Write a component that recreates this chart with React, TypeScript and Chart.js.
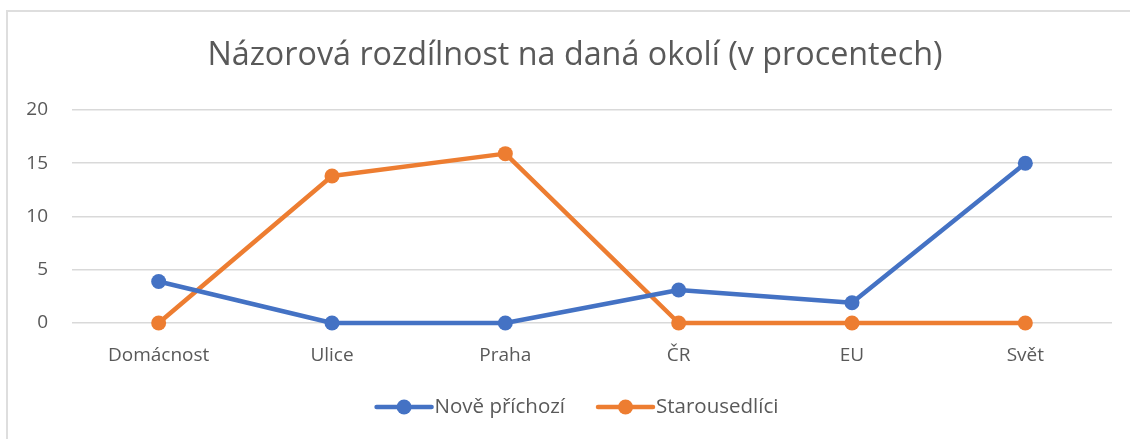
import React, { useEffect, useRef } from "react";
import { Chart, registerables } from "chart.js";

Chart.register(...registerables);

const TITLE = "Názorová rozdílnost na daná okolí (v procentech)";
const categories = ["Domácnost", "Ulice", "Praha", "ČR", "EU", "Svět"];
const noveSeries = [3.9, 0, 0, 3.1, 1.9, 15];
const staroSeries = [0, 13.8, 15.9, 0, 0, 0];
const seriesNames = ["Nově příchozí", "Starousedlíci"];
const seriesColors = ["#4472C4", "#ED7D31"];
const yTicks = [0, 5, 10, 15, 20];

const FONT = "'Open Sans', 'Noto Sans', sans-serif";
const TEXT_COLOR = "#595959";

const legendPlugin = {
  id: "lineLegend",
  afterDraw(chart: any) {
    const ctx = chart.ctx;
    const y = 407;
    const lineW = 55;
    const gapText = 3;
    const gapItems = 33;
    ctx.save();
    ctx.font = `20.5px ${FONT}`;
    const items = chart.data.datasets.map((ds: any) => ({
      label: ds.label,
      color: ds.borderColor,
      w: ctx.measureText(ds.label).width,
    }));
    const total =
      items.reduce((s: number, it: any) => s + lineW + gapText + it.w, 0) +
      gapItems * (items.length - 1);
    let x = 577.5 - total / 2;
    items.forEach((it: any) => {
      ctx.strokeStyle = it.color;
      ctx.lineWidth = 4.5;
      ctx.lineCap = "round";
      ctx.beginPath();
      ctx.moveTo(x, y);
      ctx.lineTo(x + lineW, y);
      ctx.stroke();
      ctx.fillStyle = it.color;
      ctx.beginPath();
      ctx.arc(x + lineW / 2, y, 7.5, 0, Math.PI * 2);
      ctx.fill();
      ctx.fillStyle = TEXT_COLOR;
      ctx.textBaseline = "middle";
      ctx.textAlign = "left";
      ctx.fillText(it.label, x + lineW + gapText, y);
      x += lineW + gapText + it.w + gapItems;
    });
    ctx.restore();
  },
};

export default function App() {
  const ref = useRef<HTMLCanvasElement>(null);
  useEffect(() => {
    if (!ref.current) return;
    const chart = new Chart(ref.current, {
      type: "line",
      data: {
        labels: categories,
        datasets: [noveSeries, staroSeries].map((d, i) => ({
          label: seriesNames[i],
          data: d,
          borderColor: seriesColors[i],
          backgroundColor: seriesColors[i],
          borderWidth: 4.5,
          pointRadius: 7.5,
          pointHoverRadius: 7.5,
          pointBorderWidth: 0,
          tension: 0,
          clip: false,
          borderCapStyle: "round",
          borderJoinStyle: "round",
        })),
      },
      options: {
        animation: false,
        responsive: false,
        layout: { padding: { left: 0, right: 0, top: 0, bottom: 71 } },
        plugins: {
          legend: { display: false },
          tooltip: { enabled: false },
          title: {
            display: true,
            text: TITLE,
            color: TEXT_COLOR,
            font: { family: FONT, size: 32.3, weight: "normal" },
            padding: { top: 36, bottom: 35.2 },
          },
        },
        scales: {
          x: {
            offset: true,
            grid: { display: false, drawTicks: false },
            border: { display: false },
            ticks: {
              color: TEXT_COLOR,
              font: { family: FONT, size: 19 },
              padding: 21,
              maxRotation: 0,
            },
            afterFit: (s: any) => {
              s.height = 45;
            },
          },
          y: {
            min: 0,
            max: 20,
            afterBuildTicks: (s: any) => {
              s.ticks = yTicks.map((v) => ({ value: v }));
            },
            grid: { color: "#d9d9d9", lineWidth: 1.5, drawTicks: false },
            border: { display: false },
            ticks: {
              color: TEXT_COLOR,
              font: { family: FONT, size: 19 },
              padding: 24,
            },
            afterFit: (s: any) => {
              s.width = 72;
            },
          },
          yRight: {
            position: "right",
            display: true,
            min: 0,
            max: 20,
            grid: { display: false, drawTicks: false },
            border: { display: false },
            ticks: { display: false },
            afterFit: (s: any) => {
              s.width = 38;
            },
          },
        },
      },
      plugins: [legendPlugin],
    });
    return () => chart.destroy();
  }, []);
  return (
    <div
      style={{
        position: "absolute",
        left: 0,
        top: 0,
        width: 1130,
        height: 439,
        overflow: "hidden",
        background: "#fff",
      }}
    >
      <div
        style={{
          position: "absolute",
          left: 6,
          top: 10,
          width: 1200,
          height: 500,
          border: "2px solid #dedede",
        }}
      />
      <canvas
        ref={ref}
        width={1150}
        height={439}
        style={{ position: "absolute", left: 0, top: 0, width: 1150, height: 439 }}
      />
    </div>
  );
}
